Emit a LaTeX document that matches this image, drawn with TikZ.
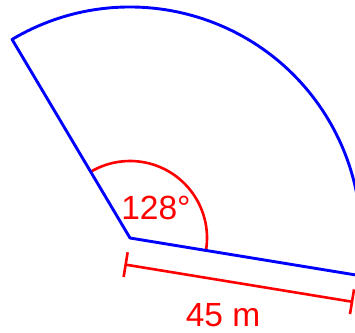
\documentclass[tikz,border=0pt]{standalone}
\usepackage{fontspec}
\setmainfont{Liberation Sans}
\usetikzlibrary{calc}
\begin{document}
\begin{tikzpicture}[x=1pt,y=1pt,
  side/.style={draw=blue, line width=2.9pt, line join=round},
  meas/.style={draw=red, line width=2.6pt},
  lbl/.style={text=red, font=\fontsize{33.5}{38}\selectfont, inner sep=0pt}]
\useasboundingbox (0,0) rectangle (355,332);
\clip (0,0) rectangle (355,332);
\coordinate (O) at (130,94);
\coordinate (A) at ($(O)+(120.7:231)$);
\coordinate (B) at ($(O)+(-9.3:231)$);
\coordinate (R1) at ($(O)+(-9.3:77)$);
\draw[meas] (R1) arc[start angle=-9.3, end angle=120.7, radius=77];
\draw[side] (B) -- (O) -- (A) arc[start angle=120.7, end angle=-9.3, radius=231];
\coordinate (D1) at ($(O)+(-99.3:27)$);
\coordinate (D2) at ($(D1)+(-9.3:229.4)$);
\draw[meas] (D1) -- (D2);
\draw[meas] ($(D1)+(80.7:12.5)$) -- ($(D1)+(-99.3:12.5)$);
\draw[meas] ($(D2)+(80.7:12.5)$) -- ($(D2)+(-99.3:12.5)$);
\node[lbl] (ang) at (156,124) {128°};
\node[lbl] (len) at (223,17) {45 m};
\end{tikzpicture}
\end{document}
